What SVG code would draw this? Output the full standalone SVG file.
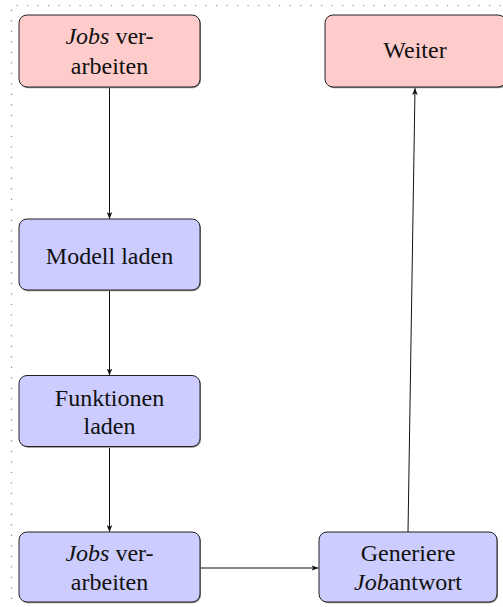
<svg xmlns="http://www.w3.org/2000/svg" width="503" height="607" viewBox="0 0 503 607">
  <style>
    .frame { fill: none; stroke: #8a8a8a; stroke-width: 1.2; stroke-dasharray: 1.2 9.3; }
    .box { stroke: #222; stroke-width: 1; }
    .shadow { fill: #8a8a8a; }
    .start { fill: #ffcccc; }
    .step { fill: #ccccff; }
    .lbl { font-size: 24px; fill: #111; text-anchor: middle; }
    .it { font-style: italic; }
    .edge { fill: none; stroke: #111; stroke-width: 1; marker-end: url(#arr); }
  </style>
  <defs>
    <marker id="arr" viewBox="0 0 10 8" refX="10" refY="4" markerWidth="7" markerHeight="6" markerUnits="userSpaceOnUse" orient="auto">
      <path d="M0,0 L10,4 L0,8 L2.5,4 Z" fill="#111"/>
    </marker>
  </defs>

  <rect width="503" height="607" fill="#ffffff"/>

  <!-- dotted picture frame -->
  <path class="frame" d="M11.5,620 L11.5,5.5 L520,5.5"/>

  <g id="connectors">
    <line class="edge" x1="109.5" y1="88" x2="109.5" y2="219"/>
    <line class="edge" x1="109.5" y1="291" x2="109.5" y2="375.5"/>
    <line class="edge" x1="109.5" y1="448" x2="109.5" y2="532"/>
    <line class="edge" x1="200" y1="568" x2="318.5" y2="568"/>
    <line class="edge" x1="408" y1="532" x2="415" y2="88"/>
  </g>

  <g font-family="'Liberation Serif', 'DejaVu Serif', serif">
    <g id="n-jobs-top">
      <rect class="shadow" x="20" y="16.2" width="181" height="72" rx="8"/>
      <rect class="box start" x="19" y="15" width="181" height="72" rx="8"/>
      <text class="lbl" x="109.5" y="44"><tspan class="it">Jobs</tspan> ver-</text>
      <text class="lbl" x="109.5" y="74">arbeiten</text>
    </g>

    <g id="n-weiter">
      <rect class="shadow" x="326" y="16.2" width="181" height="72" rx="8"/>
      <rect class="box start" x="325" y="15" width="181" height="72" rx="8"/>
      <text class="lbl" x="415" y="58">Weiter</text>
    </g>

    <g id="n-modell">
      <rect class="shadow" x="20" y="220.2" width="181" height="71" rx="8"/>
      <rect class="box step" x="19" y="219" width="181" height="71" rx="8"/>
      <text class="lbl" x="109.5" y="264">Modell laden</text>
    </g>

    <g id="n-funktionen">
      <rect class="shadow" x="20" y="376.7" width="181" height="71" rx="8"/>
      <rect class="box step" x="19" y="375.5" width="181" height="71" rx="8"/>
      <text class="lbl" x="109.5" y="405.5">Funktionen</text>
      <text class="lbl" x="109.5" y="434">laden</text>
    </g>

    <g id="n-jobs-bottom">
      <rect class="shadow" x="20" y="533.2" width="181" height="70" rx="8"/>
      <rect class="box step" x="19" y="532" width="181" height="70" rx="8"/>
      <text class="lbl" x="109.5" y="561"><tspan class="it">Jobs</tspan> ver-</text>
      <text class="lbl" x="109.5" y="590">arbeiten</text>
    </g>

    <g id="n-generiere">
      <rect class="shadow" x="320" y="533.2" width="178" height="70" rx="8"/>
      <rect class="box step" x="319" y="532" width="178" height="70" rx="8"/>
      <text class="lbl" x="408" y="561">Generiere</text>
      <text class="lbl" x="408" y="590"><tspan class="it">Job</tspan>antwort</text>
    </g>
  </g>
</svg>
